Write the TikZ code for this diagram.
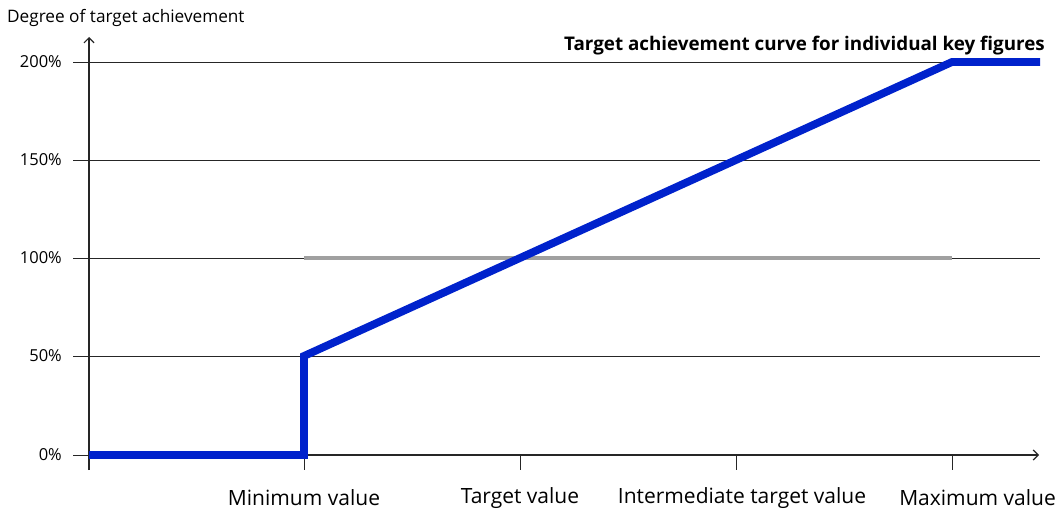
\documentclass[tikz,border=0pt]{standalone}
\usepackage{fontspec}
\setmainfont{Open Sans}
\usetikzlibrary{arrows.meta}
\definecolor{curveblue}{RGB}{0,34,204}
\definecolor{refgray}{RGB}{160,160,160}
\begin{document}
\begin{tikzpicture}[x=1pt,y=-1pt,
  lbl/.style={font=\fontsize{16.5}{19}\selectfont, inner sep=0pt},
  xlbl/.style={font=\fontsize{21}{24}\selectfont, inner sep=0pt},
  grid/.style={draw=black!85, line width=0.8pt},
  axis/.style={draw=black!85, line width=1.2pt},
  curve/.style={draw=curveblue, line width=7.8pt, line join=miter},
  ref/.style={draw=refgray, line width=4.8pt}]
\useasboundingbox (0,0) rectangle (1059,511);
% grid lines
\foreach \yy/\t in {62/200\%,160/150\%,258/100\%,356/50\%}{
  \draw[grid] (73,\yy) -- (1040,\yy);
  \node[lbl, anchor=east] at (62,\yy) {\t};
}
\node[lbl, anchor=east] (zero) at (62,455) {0\%};
\draw[grid] (73,455) -- (89,455);
% ticks
\foreach \xx in {89,304,520,736,952}{
  \draw[grid] (\xx,455) -- (\xx,470);
}
% axes
\coordinate (o) at (89,455);
\coordinate (ytop) at (89,37);
\coordinate (xend) at (1039,455);
\draw[axis, -{Straight Barb[length=5pt,width=10pt]}] (o) -- (xend);
\draw[axis, -{Straight Barb[length=5pt,width=10pt]}] (89,470) -- (ytop);
% reference 100% line
\coordinate (r1) at (304,258);
\coordinate (r2) at (952,258);
\draw[ref] (r1) -- (r2);
% curve
\coordinate (c0) at (89,455);
\coordinate (c1) at (304,455);
\coordinate (c2) at (304,356);
\coordinate (c3) at (952,62);
\coordinate (c4) at (1040,62);
\draw[curve] (c0) -- (c1) -- (c2) -- (c3) -- (c4);
% labels
\node[font=\fontsize{17.2}{20}\selectfont, inner sep=0pt, anchor=west] (ylab) at (7,18) {Degree of target achievement};
\node[inner sep=0pt, anchor=east, font=\fontsize{18.8}{22}\selectfont\bfseries] (title) at (1045,46) {Target achievement curve for individual key figures};
\node[xlbl] (l1) at (304,498) {Minimum value};
\node[xlbl] (l2) at (520,498) {Target value};
\node[xlbl] (l3) at (742,498) {Intermediate target value};
\node[xlbl, anchor=east] (l4) at (1056,498) {Maximum value};
\end{tikzpicture}
\end{document}
